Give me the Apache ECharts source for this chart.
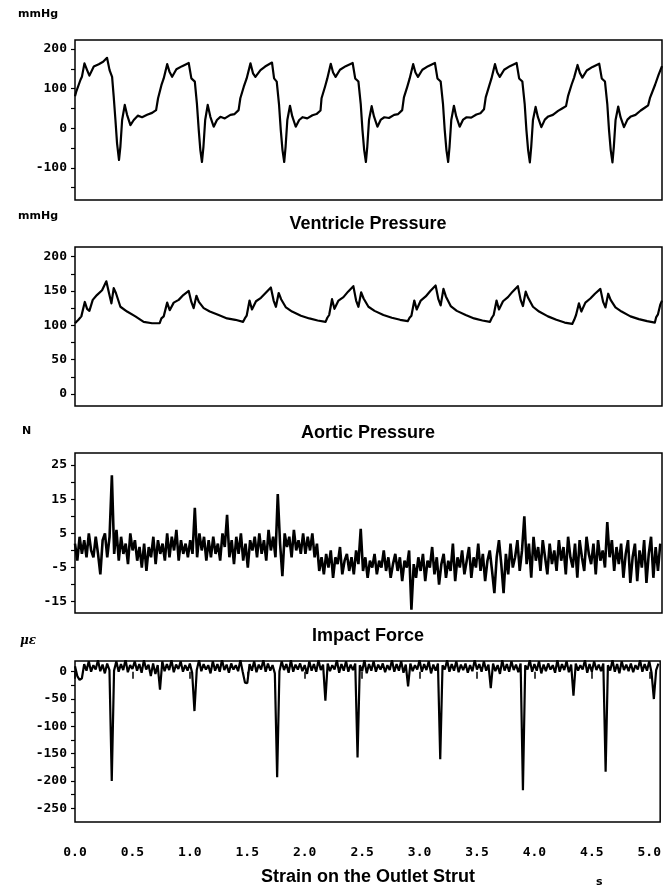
<!DOCTYPE html>
<html>
<head>
<meta charset="utf-8">
<script src="https://cdn.jsdelivr.net/npm/echarts@6/dist/echarts.min.js"></script>
<style>
html, body { margin: 0; padding: 0; background: #fff; }
#chart { width: 664px; height: 893px; }
</style>
</head>
<body>
<div id="chart"></div>
<script>
// ventricle pressure (mmHg)
var ventricleTime = [
    0.000,0.010,0.047,0.060,0.082,0.105,0.125,0.163,0.206,0.244,0.278,0.300,0.322,0.336,0.351,0.365,0.382,0.394,0.409,0.432,0.452,0.481,0.510,0.545,0.582,0.626,0.669,0.704,
    0.721,0.750,0.770,0.800,0.820,0.843,0.880,0.930,0.987,1.010,1.040,1.058,1.074,1.088,1.102,1.115,1.130,1.152,1.175,1.204,1.232,1.262,1.300,1.349,1.385,1.420,
    1.435,1.465,1.490,1.523,1.545,1.566,1.610,1.650,1.710,1.728,1.751,1.771,1.786,1.801,1.816,1.828,1.843,1.866,1.886,1.916,1.946,1.976,2.016,2.061,2.096,2.131,
    2.140,2.170,2.190,2.220,2.240,2.262,2.300,2.350,2.410,2.432,2.460,2.480,2.495,2.510,2.525,2.537,2.552,2.575,2.595,2.625,2.655,2.685,2.725,2.770,2.805,2.840,
    2.855,2.885,2.905,2.935,2.955,2.977,3.015,3.065,3.124,3.146,3.174,3.194,3.209,3.224,3.239,3.251,3.266,3.289,3.309,3.339,3.369,3.399,3.439,3.484,3.519,3.550,
    3.565,3.595,3.615,3.645,3.665,3.687,3.725,3.775,3.833,3.855,3.883,3.903,3.918,3.933,3.948,3.960,3.975,3.998,4.018,4.048,4.078,4.108,4.148,4.193,4.228,4.262,
    4.280,4.310,4.332,4.362,4.382,4.404,4.442,4.492,4.550,4.572,4.600,4.620,4.635,4.650,4.665,4.677,4.692,4.715,4.735,4.765,4.795,4.825,4.865,4.910,4.945,4.975,4.990,5.035,5.065,5.095
];
var ventriclePressure = [
    81,92,122,130,164,147,133,156,162,168,178,147,130,80,21,-38,-80,-46,21,59,34,8,21,32,28,34,39,46,
    76,109,126,162,143,130,149,157,165,126,118,63,-4,-55,-85,-46,21,59,29,4,21,29,25,34,36,46,
    76,105,126,164,139,130,147,156,166,126,118,60,-4,-55,-85,-46,21,57,30,4,21,28,25,33,36,45,
    76,105,126,163,141,130,148,157,165,126,118,62,-4,-55,-85,-46,21,56,30,4,22,28,26,34,36,46,
    78,106,126,162,141,130,148,157,165,126,118,62,-4,-55,-85,-46,21,57,30,4,22,28,27,35,38,48,
    78,107,126,162,141,130,148,157,165,126,118,62,-4,-55,-86,-46,21,54,28,3,22,30,34,44,50,56,
    82,110,128,160,140,128,146,155,163,126,118,62,-4,-55,-86,-46,21,55,28,3,22,30,34,45,52,58,76,110,135,157
];

// aortic pressure (mmHg)
var aorticTime = [
    0.000,0.030,0.055,0.085,0.105,0.125,0.154,0.190,0.235,0.272,0.295,0.316,0.336,0.355,0.394,0.452,0.524,0.596,0.669,0.735,
    0.750,0.770,0.800,0.822,0.857,0.900,0.940,0.987,1.010,1.030,1.054,1.075,1.117,1.170,1.247,1.320,1.392,1.459,
    1.474,1.490,1.515,1.536,1.571,1.614,1.654,1.700,1.724,1.744,1.768,1.789,1.831,1.884,1.961,2.034,2.106,2.175,
    2.190,2.206,2.231,2.252,2.287,2.330,2.370,2.416,2.440,2.460,2.484,2.505,2.547,2.600,2.677,2.750,2.822,2.888,
    2.904,2.920,2.945,2.966,3.001,3.044,3.084,3.130,3.154,3.174,3.198,3.219,3.261,3.314,3.391,3.464,3.536,3.602,
    3.618,3.634,3.659,3.680,3.715,3.758,3.798,3.844,3.868,3.888,3.912,3.933,3.975,4.028,4.105,4.178,4.250,4.316,
    4.333,4.349,4.374,4.395,4.430,4.473,4.513,4.560,4.584,4.604,4.628,4.649,4.691,4.744,4.821,4.894,4.966,5.033,5.045,5.060,5.080,5.095
];
var aorticPressure = [
    103,108,113,134,124,121,137,144,151,164,147,132,154,147,127,120,113,105,103,103,
    110,113,133,122,133,137,144,150,134,125,143,134,125,120,115,110,108,105,
    110,114,136,123,135,140,147,155,136,127,147,138,126,120,114,110,107,105,
    111,115,138,124,136,141,149,157,136,127,148,139,127,121,115,111,108,106,
    111,114,136,123,136,142,150,158,138,129,153,142,128,121,115,110,107,105,
    111,115,136,123,135,141,149,157,137,128,149,140,127,120,113,108,104,102,
    108,115,132,120,133,139,146,153,134,126,146,137,126,120,113,109,106,104,112,116,130,136
];

// impact force (N) and strain (µε), one reading every sampleStep seconds
var sampleStep = 0.02;
var impactForce = [
    2,-3,4,-1,3,-2,5,0,-2,4,
    -1,-7,3,5,-2,4,22,-1,6,-3,
    4,-1,2,-4,5,0,3,-3,1,-5,
    2,-6,1,-2,4,-4,3,-1,2,-3,
    5,-2,4,0,6,-3,3,-1,2,-2,
    3,-1,12.5,-2,5,0,4,-3,3,-2,
    4,-1,2,-3,5,1,10.4,-2,3,-4,
    4,-1,5,-3,2,-5,3,0,4,-2,
    5,-1,3,-3,6,0,4,-2,16.5,2,
    -7.5,5,1,4,-2,6,0,3,-1,5,
    -1,4,0,5,-2,2,-6,-2,-7,-1,
    -5,0,-8,-2,-4,1,-7,-3,-1,-6,
    -2,-7,0,-4,6.3,-6,-2,-8,-3,-5,
    -1,-7,-3,-5,0,-6,-2,-8,-4,-1,
    -6,-2,-9,-3,-5,0,-17.3,-4,-8,-2,
    -6,-1,-9,-3,-5,1,-7,-2,-10,-4,
    -1,-8,-3,-6,2,-9,-2,-5,0,-7,
    -3,1,-8,-2,-5,2,-6,-1,-9,-3,
    0,-6,-12.5,-2,3,-4,-12.5,-1,-7,2,
    -5,-2,3,-6,0,10,-4,2,-8,4,
    -3,1,-6,3,-2,-7,2,-4,0,-6,
    3,-3,1,-7,4,-2,-5,2,-8,3,
    -2,-6,4,-1,-4,2,-7,3,-3,0,
    -5,8.3,-2,3,-6,1,-4,2,-8,-1,
    3,-9.5,-2,2,-9,0,-5,3,-9.5,-1,
    4,-8,1,-6,2
];
// the top of the strain band runs off the box and is clipped there
var outletStrain = [
    10,-8,-15,-12,14,2,19,0,12,4,
    21,1,13,-3,15,3,-200,2,19,0,
    14,3,22,-1,12,5,19,2,14,-2,
    21,4,13,-8,15,-4,12,-33,19,1,
    14,3,21,-1,13,5,19,0,12,2,
    15,-2,-72,3,21,1,14,4,12,-3,
    19,2,14,0,22,3,13,-2,15,4,
    12,1,21,0,-20,-21,14,2,19,-1,
    13,4,21,0,15,2,12,-3,-193,1,
    19,3,14,-2,21,0,13,4,15,1,
    12,-4,19,2,14,0,21,3,13,-53,
    15,1,12,4,21,-2,14,2,19,0,
    13,3,15,-157,12,1,21,-3,14,2,
    19,0,13,4,15,-1,12,3,21,0,
    14,2,19,-2,13,-27,15,1,12,4,
    21,0,14,3,19,-3,13,2,15,-160,
    12,4,21,0,14,2,19,-1,13,3,
    15,-2,12,1,21,4,14,0,19,2,
    13,-30,15,1,12,-4,21,2,14,0,
    19,3,13,-1,15,-217,12,4,21,0,
    14,2,19,-3,13,1,15,4,12,-2,
    21,0,14,3,19,-1,13,-44,15,2,
    12,4,21,-2,14,0,19,3,13,1,
    15,-183,12,2,21,0,14,-3,19,3,
    13,1,15,-1,12,4,21,0,14,2,
    19,-2,-50,3,15
];

// axis ticks and labels
var timeTicks = [0, 0.5, 1, 1.5, 2, 2.5, 3, 3.5, 4, 4.5, 5];
var ventricleTicks = [-150, -100, -50, 0, 50, 100, 150, 200];
var ventricleLabels = [-100, 0, 100, 200];
var aorticTicks = [0, 25, 50, 75, 100, 125, 150, 175, 200];
var aorticLabels = [0, 50, 100, 150, 200];
var forceTicks = [-15, -10, -5, 0, 5, 10, 15, 20, 25];
var forceLabels = [-15, -5, 5, 15, 25];
var strainTicks = [-250, -225, -200, -175, -150, -125, -100, -75, -50, -25, 0];
var strainLabels = [-250, -200, -150, -100, -50, 0];

var titles = ['Ventricle Pressure', 'Aortic Pressure', 'Impact Force', 'Strain on the Outlet Strut'];

function pairs(xs, ys) {
    return xs.map(function (x, i) { return [x, ys[i]]; });
}
function sampled(ys) {
    return ys.map(function (y, i) { return [+(i * sampleStep).toFixed(3), y]; });
}

var panels = [
    { top: 40, height: 160, min: -181, max: 223, ticks: ventricleTicks, labels: ventricleLabels },
    { top: 247, height: 159, min: -17.5, max: 214, ticks: aorticTicks, labels: aorticLabels },
    { top: 453, height: 160, min: -18.3, max: 28.5, ticks: forceTicks, labels: forceLabels },
    { top: 661, height: 161, min: -275, max: 19.6, ticks: strainTicks, labels: strainLabels }
];

var monoLabel = {
    color: '#000',
    fontFamily: 'DejaVu Sans Mono',
    fontWeight: 'bold',
    fontSize: 13
};

var option = {
    animation: false,
    backgroundColor: '#fff',
    grid: panels.map(function (p) {
        return {
            left: 75, right: 2, top: p.top, height: p.height,
            show: true, borderColor: '#000', borderWidth: 1.5, backgroundColor: 'transparent'
        };
    }),
    xAxis: panels.map(function (p, i) {
        var last = i === 3;
        return {
            type: 'value',
            gridIndex: i,
            min: 0,
            max: 5.095,
            axisLine: { show: false },
            splitLine: { show: false },
            axisTick: {
                show: last,
                customValues: timeTicks,
                length: 7,
                lineStyle: { color: '#000', width: 1.5 }
            },
            axisLabel: Object.assign({
                show: last,
                customValues: timeTicks,
                margin: 24,
                formatter: function (v) { return v.toFixed(1); }
            }, monoLabel)
        };
    }),
    yAxis: panels.map(function (p, i) {
        return {
            type: 'value',
            gridIndex: i,
            min: p.min,
            max: p.max,
            axisLine: { show: false },
            splitLine: { show: false },
            axisTick: {
                show: true,
                customValues: p.ticks,
                length: 4,
                lineStyle: { color: '#000', width: 1.2 }
            },
            axisLabel: Object.assign({
                customValues: p.labels,
                margin: 8
            }, monoLabel)
        };
    }),
    series: [
        {
            type: 'line', xAxisIndex: 0, yAxisIndex: 0,
            data: pairs(ventricleTime, ventriclePressure),
            showSymbol: false,
            lineStyle: { color: '#000', width: 2.2, join: 'round' }
        },
        {
            type: 'line', xAxisIndex: 1, yAxisIndex: 1,
            data: pairs(aorticTime, aorticPressure),
            showSymbol: false,
            lineStyle: { color: '#000', width: 2.2, join: 'round' }
        },
        {
            type: 'line', xAxisIndex: 2, yAxisIndex: 2,
            data: sampled(impactForce),
            showSymbol: false,
            lineStyle: { color: '#000', width: 2.6 }
        },
        {
            type: 'line', xAxisIndex: 3, yAxisIndex: 3,
            data: sampled(outletStrain),
            showSymbol: false,
            lineStyle: { color: '#000', width: 2.2 }
        }
    ],
    graphic: []
};

// panel titles under each box
var titleY = [224, 433, 636, 877];
titles.forEach(function (t, i) {
    option.graphic.push({
        type: 'text',
        style: {
            text: t, x: 368, y: titleY[i],
            align: 'center', verticalAlign: 'middle',
            textAlign: 'center', textVerticalAlign: 'middle',
            font: 'bold 18px "Liberation Sans", Arial, sans-serif',
            fill: '#000'
        }
    });
});

// unit labels
var units = [
    { text: 'mmHg', x: 18, y: 14, font: 'bold 11px "DejaVu Sans"' },
    { text: 'mmHg', x: 18, y: 216, font: 'bold 11px "DejaVu Sans"' },
    { text: 'N', x: 22, y: 431, font: 'bold 11px "DejaVu Sans"' },
    { text: 'με', x: 20, y: 641, font: 'italic bold 12px "DejaVu Serif"' },
    { text: 's', x: 596, y: 882, font: 'bold 11px "DejaVu Sans"' }
];
units.forEach(function (u) {
    option.graphic.push({
        type: 'text',
        style: {
            text: u.text, x: u.x, y: u.y,
            align: 'left', verticalAlign: 'middle',
            textAlign: 'left', textVerticalAlign: 'middle',
            font: u.font, fill: '#000'
        }
    });
});

var chart = echarts.init(document.getElementById('chart'));
chart.setOption(option);
</script>
</body>
</html>
